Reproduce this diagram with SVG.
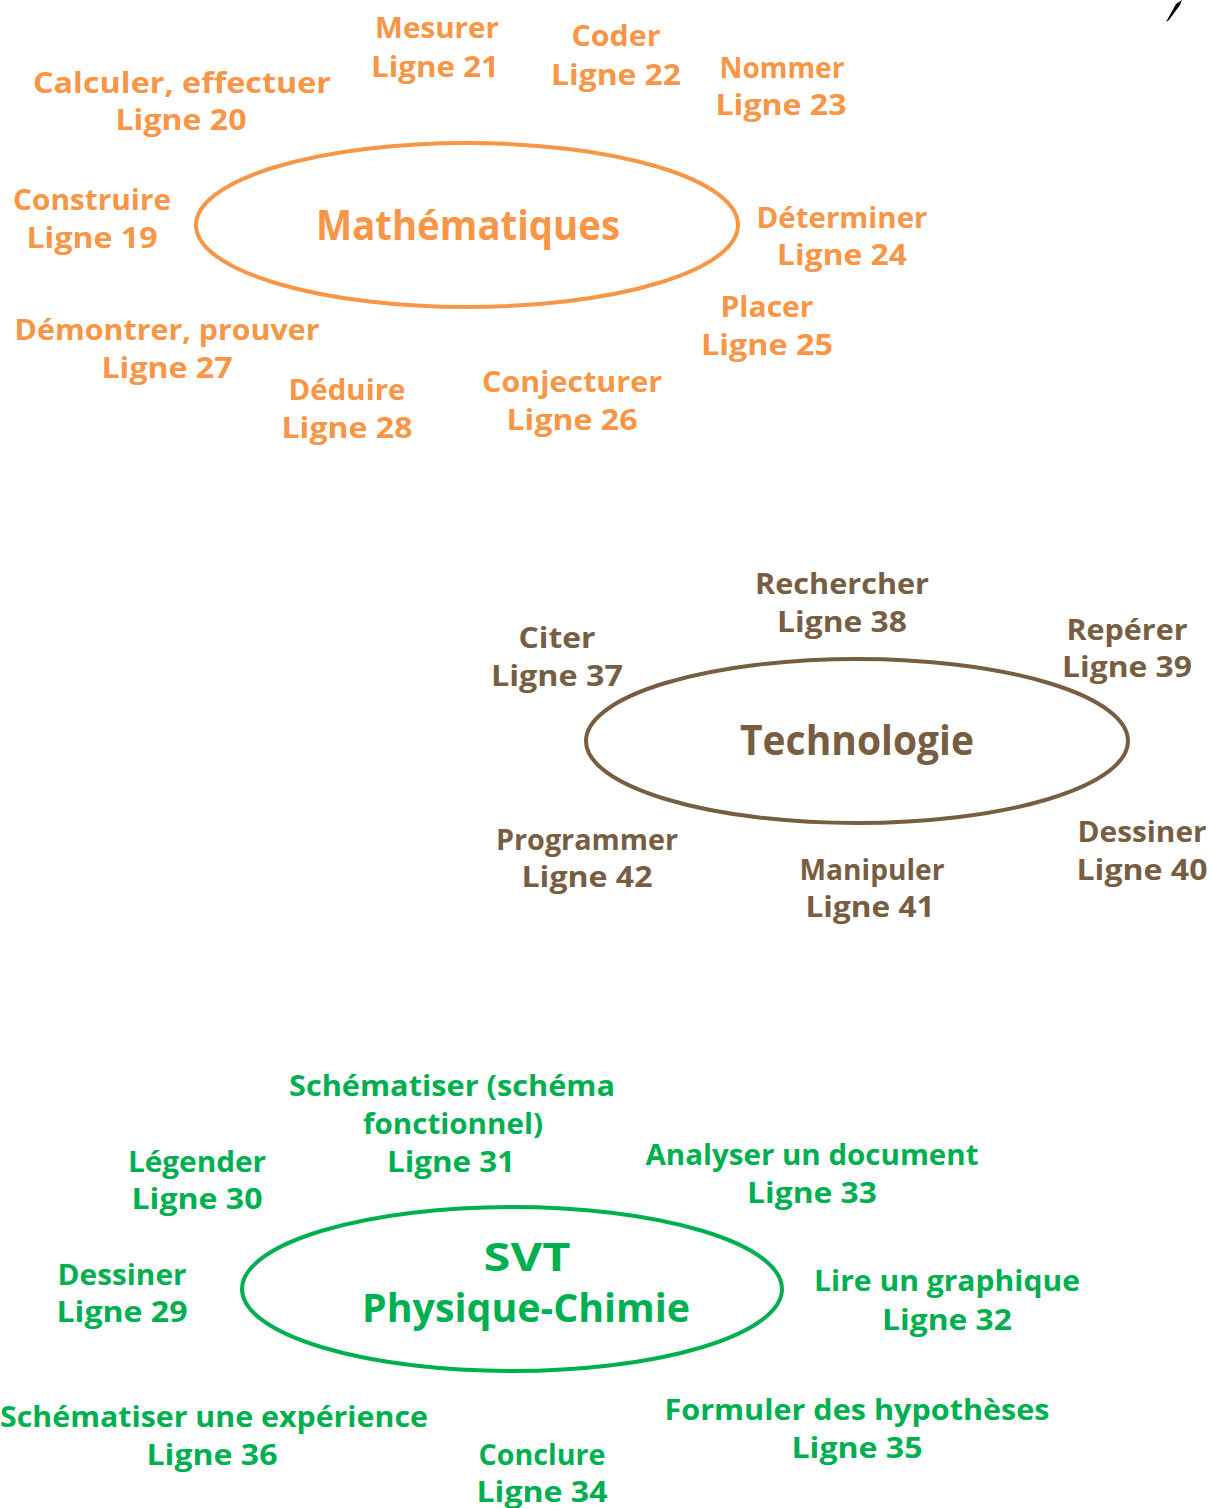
<svg xmlns="http://www.w3.org/2000/svg" width="1211" height="1508" viewBox="0 0 1211 1508">
<style>
text{font-family:"Open Sans","Noto Sans","DejaVu Sans",sans-serif;font-weight:bold;text-anchor:middle;font-size:29px}
.t{font-size:42px}
.s{font-size:39px}
.m{fill:#F79646}
.b{fill:#775E42}
.g{fill:#00B050}
.e{fill:none;stroke-width:4}
</style>
<rect width="1211" height="1508" fill="#fff"/>
<path d="M1166,22 L1176,4 L1182,0 L1180,5 L1169,20 Z" fill="#000"/>
<g id="connectors"/>
<g id="math">
<ellipse class="e" cx="467" cy="225" rx="271" ry="82" stroke="#F79646"/>
<text class="m t" x="468" y="240" textLength="304" lengthAdjust="spacingAndGlyphs">Mathématiques</text>
</g>
<g id="m-mesurer"><text class="m" x="437" y="38" textLength="124" lengthAdjust="spacingAndGlyphs">Mesurer</text><text class="m" x="435" y="77" textLength="128" lengthAdjust="spacingAndGlyphs">Ligne 21</text></g>
<g id="m-coder"><text class="m" x="616" y="46" textLength="89" lengthAdjust="spacingAndGlyphs">Coder</text><text class="m" x="616" y="85" textLength="130" lengthAdjust="spacingAndGlyphs">Ligne 22</text></g>
<g id="m-nommer"><text class="m" x="782" y="78" textLength="125" lengthAdjust="spacingAndGlyphs">Nommer</text><text class="m" x="781" y="115" textLength="131" lengthAdjust="spacingAndGlyphs">Ligne 23</text></g>
<g id="m-calculer"><text class="m" x="182" y="93" textLength="298" lengthAdjust="spacingAndGlyphs">Calculer, effectuer</text><text class="m" x="181" y="130" textLength="131" lengthAdjust="spacingAndGlyphs">Ligne 20</text></g>
<g id="m-construire"><text class="m" x="92" y="210" textLength="158" lengthAdjust="spacingAndGlyphs">Construire</text><text class="m" x="92" y="248" textLength="131" lengthAdjust="spacingAndGlyphs">Ligne 19</text></g>
<g id="m-determiner"><text class="m" x="842" y="228" textLength="171" lengthAdjust="spacingAndGlyphs">Déterminer</text><text class="m" x="842" y="265" textLength="130" lengthAdjust="spacingAndGlyphs">Ligne 24</text></g>
<g id="m-placer"><text class="m" x="767" y="317" textLength="93" lengthAdjust="spacingAndGlyphs">Placer</text><text class="m" x="767" y="355" textLength="132" lengthAdjust="spacingAndGlyphs">Ligne 25</text></g>
<g id="m-demontrer"><text class="m" x="167" y="340" textLength="305" lengthAdjust="spacingAndGlyphs">Démontrer, prouver</text><text class="m" x="167" y="378" textLength="131" lengthAdjust="spacingAndGlyphs">Ligne 27</text></g>
<g id="m-deduire"><text class="m" x="347" y="400" textLength="117" lengthAdjust="spacingAndGlyphs">Déduire</text><text class="m" x="347" y="438" textLength="131" lengthAdjust="spacingAndGlyphs">Ligne 28</text></g>
<g id="m-conjecturer"><text class="m" x="572" y="392" textLength="180" lengthAdjust="spacingAndGlyphs">Conjecturer</text><text class="m" x="572" y="430" textLength="131" lengthAdjust="spacingAndGlyphs">Ligne 26</text></g>

<g id="techno">
<ellipse class="e" cx="857" cy="741" rx="271" ry="82" stroke="#775E42"/>
<text class="b t" x="857" y="755" textLength="234" lengthAdjust="spacingAndGlyphs">Technologie</text>
</g>
<g id="t-rechercher"><text class="b" x="842" y="594" textLength="174" lengthAdjust="spacingAndGlyphs">Rechercher</text><text class="b" x="842" y="632" textLength="130" lengthAdjust="spacingAndGlyphs">Ligne 38</text></g>
<g id="t-citer"><text class="b" x="557" y="648" textLength="77" lengthAdjust="spacingAndGlyphs">Citer</text><text class="b" x="557" y="686" textLength="132" lengthAdjust="spacingAndGlyphs">Ligne 37</text></g>
<g id="t-reperer"><text class="b" x="1127" y="640" textLength="121" lengthAdjust="spacingAndGlyphs">Repérer</text><text class="b" x="1127" y="677" textLength="130" lengthAdjust="spacingAndGlyphs">Ligne 39</text></g>
<g id="t-programmer"><text class="b" x="587" y="850" textLength="182" lengthAdjust="spacingAndGlyphs">Programmer</text><text class="b" x="587" y="887" textLength="131" lengthAdjust="spacingAndGlyphs">Ligne 42</text></g>
<g id="t-manipuler"><text class="b" x="872" y="880" textLength="145" lengthAdjust="spacingAndGlyphs">Manipuler</text><text class="b" x="870" y="917" textLength="129" lengthAdjust="spacingAndGlyphs">Ligne 41</text></g>
<g id="t-dessiner"><text class="b" x="1142" y="842" textLength="129" lengthAdjust="spacingAndGlyphs">Dessiner</text><text class="b" x="1142" y="880" textLength="131" lengthAdjust="spacingAndGlyphs">Ligne 40</text></g>

<g id="svt">
<ellipse class="e" cx="512" cy="1289" rx="270" ry="82" stroke="#00B050"/>
<text class="g s" x="527" y="1271" textLength="87" lengthAdjust="spacingAndGlyphs">SVT</text>
<text class="g s" x="526" y="1322" textLength="328" lengthAdjust="spacingAndGlyphs">Physique-Chimie</text>
</g>
<g id="s-schema"><text class="g" x="452" y="1096" textLength="326" lengthAdjust="spacingAndGlyphs">Schématiser (schéma</text><text class="g" x="453" y="1134" textLength="180" lengthAdjust="spacingAndGlyphs">fonctionnel)</text><text class="g" x="451" y="1172" textLength="128" lengthAdjust="spacingAndGlyphs">Ligne 31</text></g>
<g id="s-legender"><text class="g" x="197" y="1172" textLength="138" lengthAdjust="spacingAndGlyphs">Légender</text><text class="g" x="197" y="1209" textLength="131" lengthAdjust="spacingAndGlyphs">Ligne 30</text></g>
<g id="s-analyser"><text class="g" x="812" y="1165" textLength="333" lengthAdjust="spacingAndGlyphs">Analyser un document</text><text class="g" x="812" y="1203" textLength="130" lengthAdjust="spacingAndGlyphs">Ligne 33</text></g>
<g id="s-dessiner"><text class="g" x="122" y="1285" textLength="129" lengthAdjust="spacingAndGlyphs">Dessiner</text><text class="g" x="122" y="1322" textLength="131" lengthAdjust="spacingAndGlyphs">Ligne 29</text></g>
<g id="s-lire"><text class="g" x="947" y="1291" textLength="266" lengthAdjust="spacingAndGlyphs">Lire un graphique</text><text class="g" x="947" y="1330" textLength="130" lengthAdjust="spacingAndGlyphs">Ligne 32</text></g>
<g id="s-experience"><text class="g" x="214" y="1427" textLength="428" lengthAdjust="spacingAndGlyphs">Schématiser une expérience</text><text class="g" x="212" y="1465" textLength="131" lengthAdjust="spacingAndGlyphs">Ligne 36</text></g>
<g id="s-formuler"><text class="g" x="857" y="1420" textLength="385" lengthAdjust="spacingAndGlyphs">Formuler des hypothèses</text><text class="g" x="857" y="1458" textLength="131" lengthAdjust="spacingAndGlyphs">Ligne 35</text></g>
<g id="s-conclure"><text class="g" x="542" y="1465" textLength="127" lengthAdjust="spacingAndGlyphs">Conclure</text><text class="g" x="542" y="1502" textLength="131" lengthAdjust="spacingAndGlyphs">Ligne 34</text></g>
</svg>
